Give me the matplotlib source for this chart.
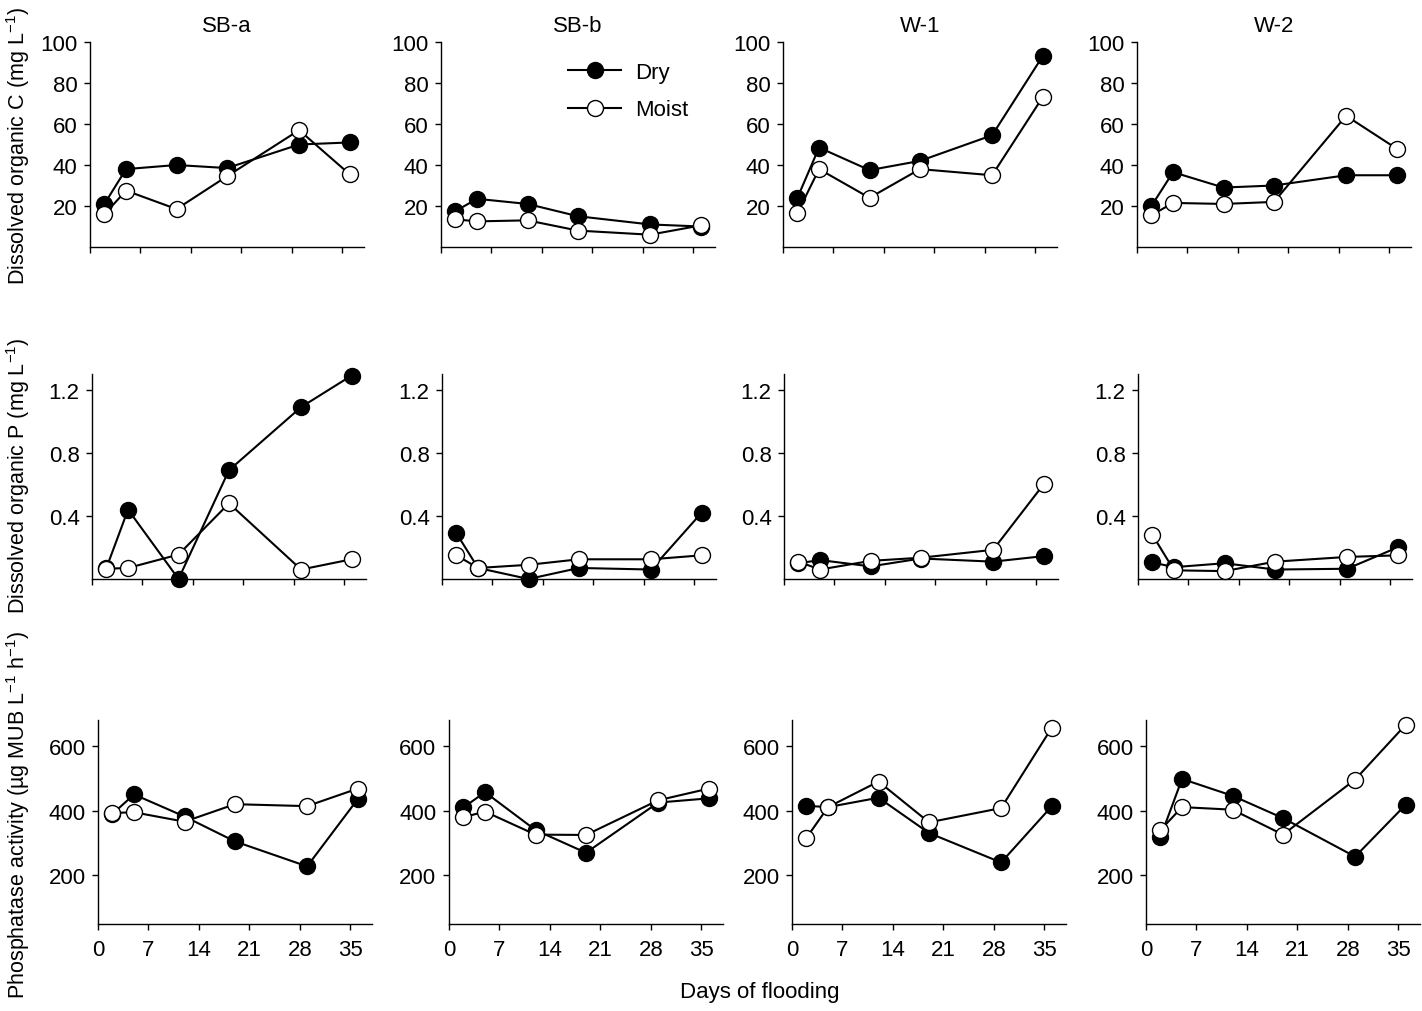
import matplotlib
matplotlib.use("Agg")
import matplotlib.pyplot as plt

plt.rcParams['font.family'] = ['Liberation Sans', 'DejaVu Sans']
plt.rcParams['mathtext.fontset'] = 'custom'
plt.rcParams['mathtext.rm'] = 'Liberation Sans'
plt.rcParams['mathtext.it'] = 'Liberation Sans:italic'

sites = ["SB-a", "SB-b", "W-1", "W-2"]
days = [2, 5, 12, 19, 29, 36]

# Dissolved organic C (mg L-1)
doc_dry = {
    "SB-a": [21, 38, 40, 38.5, 50, 51],
    "SB-b": [17.5, 23.5, 21, 15, 11, 10],
    "W-1": [24, 48.5, 37.5, 42, 54.5, 93],
    "W-2": [20, 36.5, 29, 30, 35, 35],
}
doc_moist = {
    "SB-a": [16, 27.5, 18.5, 34.5, 57, 35.5],
    "SB-b": [13.5, 12.5, 13, 8, 6, 10.5],
    "W-1": [16.5, 38, 24, 38, 35, 73],
    "W-2": [15.5, 21.5, 21, 22, 64, 48],
}
# Dissolved organic P (mg L-1)
dop_dry = {
    "SB-a": [0.07, 0.44, 0.0, 0.69, 1.09, 1.29],
    "SB-b": [0.29, 0.07, 0.0, 0.07, 0.06, 0.42],
    "W-1": [0.10, 0.12, 0.08, 0.13, 0.11, 0.145],
    "W-2": [0.105, 0.075, 0.10, 0.06, 0.065, 0.20],
}
dop_moist = {
    "SB-a": [0.065, 0.07, 0.155, 0.48, 0.06, 0.125],
    "SB-b": [0.15, 0.07, 0.09, 0.125, 0.125, 0.15],
    "W-1": [0.11, 0.06, 0.115, 0.135, 0.185, 0.60],
    "W-2": [0.28, 0.055, 0.05, 0.11, 0.14, 0.15],
}
# Phosphatase activity (ug MUB L-1 h-1)
pha_dry = {
    "SB-a": [390, 450, 382, 305, 228, 435],
    "SB-b": [410, 457, 340, 270, 425, 438],
    "W-1": [415, 411, 440, 331, 240, 413],
    "W-2": [318, 498, 446, 377, 258, 418],
}
pha_moist = {
    "SB-a": [393, 395, 366, 420, 414, 468],
    "SB-b": [380, 397, 326, 325, 432, 468],
    "W-1": [316, 411, 490, 364, 408, 655],
    "W-2": [340, 411, 403, 326, 496, 665],
}

x_ticks = [0, 7, 14, 21, 28, 35]

rows = [
    dict(dry=doc_dry, moist=doc_moist, ylim=(0, 100), yticks=[20, 40, 60, 80, 100],
         ylabels=["20", "40", "60", "80", "100"], top=43, bot=248,
         lefts=[90, 441, 783, 1137], label="Dissolved organic C (mg L$^{-1}$)", lab_y=146),
    dict(dry=dop_dry, moist=dop_moist, ylim=(0, 1.3), yticks=[0.4, 0.8, 1.2],
         ylabels=["0.4", "0.8", "1.2"], top=375, bot=580,
         lefts=[92, 442, 784, 1138], label="Dissolved organic P (mg L$^{-1}$)", lab_y=476),
    dict(dry=pha_dry, moist=pha_moist, ylim=(50, 680), yticks=[200, 400, 600],
         ylabels=["200", "400", "600"], top=721, bot=925,
         lefts=[98, 449, 792, 1146], label="Phosphatase activity (µg MUB L$^{-1}$ h$^{-1}$)", lab_y=815),
]

W, H = 1422, 1012
fig = plt.figure(figsize=(W / 100, H / 100), dpi=100)
axw = 274
fs = 16

legend_handles = None
for r, row in enumerate(rows):
    for c, site in enumerate(sites):
        left = row["lefts"][c]
        ax = fig.add_axes([left / W, 1 - row["bot"] / H, axw / W, (row["bot"] - row["top"]) / H])
        l1, = ax.plot(days, row["dry"][site], '-o', color='black', lw=1.5,
                      ms=11.5, mfc='black', mec='black', mew=1.0, label='Dry', zorder=3)
        l2, = ax.plot(days, row["moist"][site], '-o', color='black', lw=1.5,
                      ms=11.5, mfc='white', mec='black', mew=1.0, label='Moist', zorder=4)
        if legend_handles is None:
            legend_handles = (l1, l2)
        ax.set_xlim(0, 38)
        ax.set_ylim(*row["ylim"])
        ax.set_xticks(x_ticks)
        ax.set_yticks(row["yticks"])
        ax.set_yticklabels(row["ylabels"])
        if r == 2:
            ax.set_xticklabels([str(t) for t in x_ticks])
        else:
            ax.set_xticklabels([])
        for s in ["top", "right"]:
            ax.spines[s].set_visible(False)
        for s in ["left", "bottom"]:
            ax.spines[s].set_linewidth(1.0)
        ax.tick_params(direction='out', length=4, width=1, labelsize=fs, pad=5)
        ax.tick_params(axis='x', pad=7)
        ax.patch.set_alpha(0)
        for ln in ax.lines:
            ln.set_clip_on(False)
        if r == 0:
            ax.set_title(site, fontsize=fs, pad=8)
        if r == 0 and c == 1:
            ax.legend(handles=legend_handles, loc='center left',
                      bbox_to_anchor=(568 / W, 1 - 92 / H), bbox_transform=fig.transFigure,
                      frameon=False, fontsize=fs, handlelength=2.4, handletextpad=0.6,
                      labelspacing=0.75, borderpad=0, borderaxespad=0)
    fig.text(18 / W, 1 - row["lab_y"] / H, row["label"], rotation=90,
             ha='center', va='center', fontsize=15.5)

fig.text(760 / W, 1 - 993 / H, "Days of flooding", ha='center', va='center', fontsize=fs)

fig.savefig("out.png", dpi=100)
